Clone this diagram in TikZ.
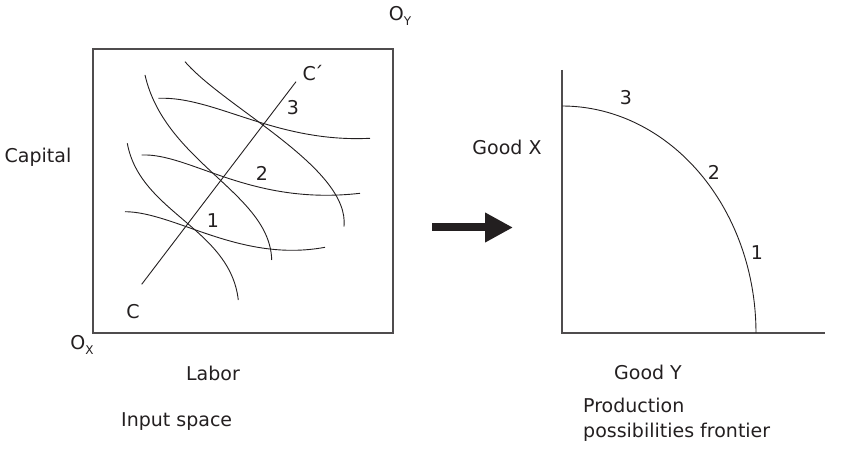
\documentclass[tikz,border=0pt]{standalone}
\usepackage{fontspec}
\setmainfont{DejaVu Sans}
\usepackage{tikz}
\usetikzlibrary{arrows.meta}

\definecolor{ink}{HTML}{231F20}
\newcommand{\lowtxt}[1]{\raisebox{-0.45ex}{\fontsize{12}{13}\selectfont #1}}

\begin{document}
\begin{tikzpicture}[
    x=1pt, y=1pt,
    txt/.style={text=ink, inner sep=0pt, font=\fontsize{19}{25}\selectfont},
    frame/.style={draw=ink!80, line width=1.4pt},
    axisline/.style={draw=ink!80, line width=1.4pt},
    curve/.style={draw=ink, line width=0.9pt},
    bigarrow/.style={draw=ink, line width=8pt, -{Triangle[length=28pt, width=28pt]}}
]
    \useasboundingbox (0,0) rectangle (851,468);

    % Input space ===========================
    \draw[frame] (93,135) rectangle (393,419);
    \node[txt] (oy) at (400,452) {O\lowtxt{Y}};
    \node[txt] (ox) at (82,123) {O\lowtxt{X}};
    \node[txt] (capital) at (38,311) {Capital};
    \node[txt] (labor) at (213,95) {Labor};
    \node[txt, anchor=west] (inspace) at (121,46) {Input space};

    % Isoquants of X ===========================
    \draw[curve] (127.3,324.7) .. controls (140,255) and (230,240) .. (238.3,168);
    \draw[curve] (145,393) .. controls (165,305) and (270,275) .. (271.7,208);
    \draw[curve] (185,406.3) .. controls (225,360) and (350,300) .. (344,241.3);

    % Isoquants of Y ===========================
    \draw[curve] (125,256.3) .. controls (175,256) and (240,205) .. (325,220.7);
    \draw[curve] (141.7,313) .. controls (190,315) and (250,262) .. (360,274.7);
    \draw[curve] (158.3,369.7) .. controls (215,372) and (275,325) .. (370,329.7);

    % Contract curve ===========================
    \node[txt] (c) at (133,156) {C};
    \node[txt] (cprime) at (313,395) {C\kern-2pt´};
    \coordinate (cbot) at (141.7,183.7);
    \coordinate (ctop) at (296,386.3);
    \draw[curve] (cbot) -- (ctop);
    \node[txt] (pa) at (213,247) {1};
    \node[txt] (pb) at (262,295) {2};
    \node[txt] (pc) at (293,360) {3};

    % Arrow ===========================
    \coordinate (arrowstart) at (432,240.5);
    \coordinate (arrowend) at (513,240.5);
    \draw[bigarrow] (arrowstart) -- (arrowend);

    % Production possibilities frontier ===========================
    \coordinate (origin) at (562,135);
    \coordinate (ytop) at (562,398);
    \coordinate (xend) at (825,135);
    \draw[axisline] (ytop) -- (origin) -- (xend);
    \draw[curve] plot[domain=0:90, samples=60, smooth] ({562+194*cos(\x)}, {135+227*sin(\x)});
    \node[txt] (fc) at (626,370) {3};
    \node[txt] (fb) at (714,296) {2};
    \node[txt] (fa) at (757,215) {1};
    \node[txt] (goodx) at (507,321) {Good X};
    \node[txt] (goody) at (648,96) {Good Y};
    \node[txt, anchor=north west, align=left] (ppf) at (583,70) {Production\\possibilities frontier};

\end{tikzpicture}
\end{document}
